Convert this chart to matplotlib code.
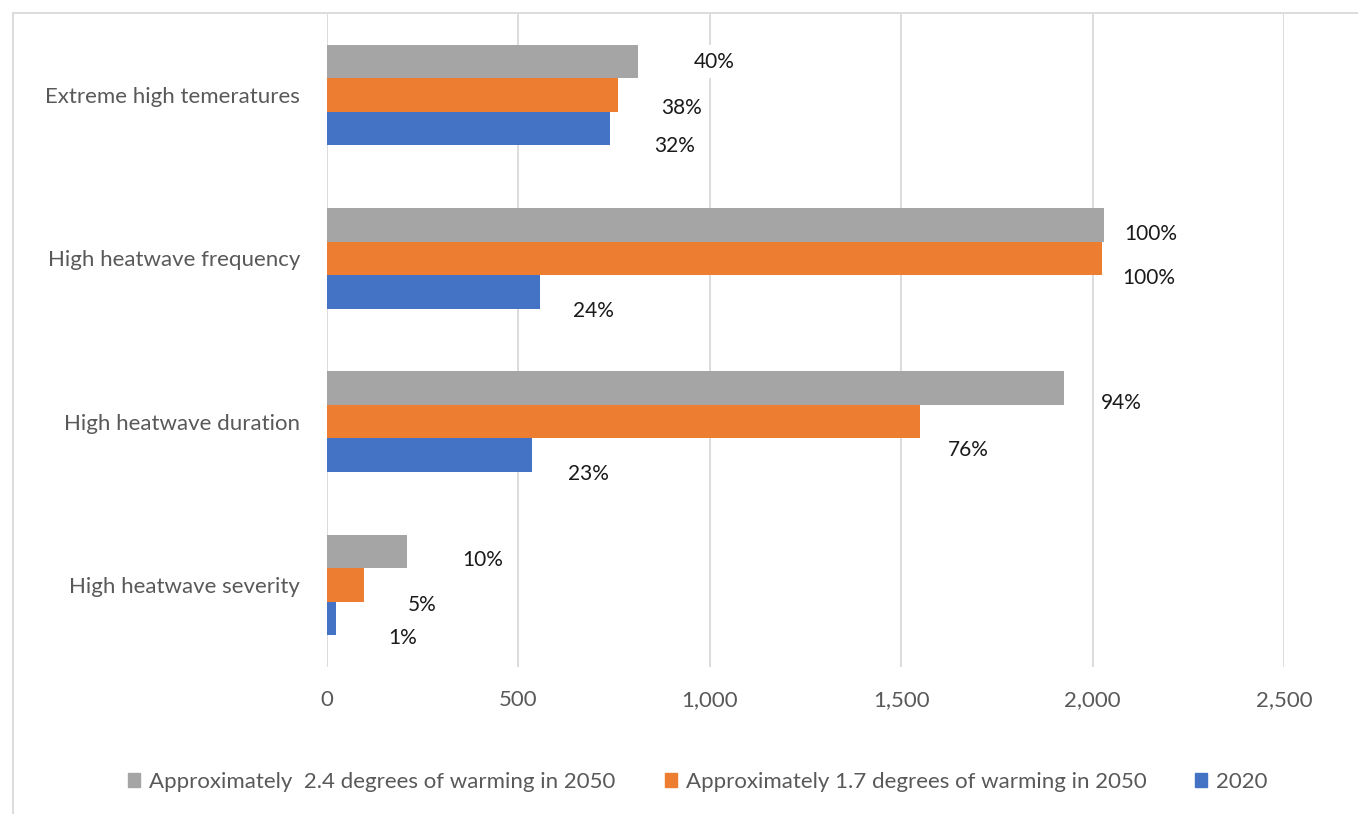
import matplotlib.pyplot as plt
from matplotlib.patches import Patch
from matplotlib.lines import Line2D
from matplotlib.ticker import FuncFormatter

plt.rcParams['font.family'] = ['Lato', 'DejaVu Sans']

# data
categories = ['Extreme high temeratures', 'High heatwave frequency',
              'High heatwave duration', 'High heatwave severity']
series_names = ['Approximately  2.4 degrees of warming in 2050',
                'Approximately 1.7 degrees of warming in 2050',
                '2020']
warm_24 = [813, 2031, 1924, 209]
warm_17 = [761, 2024, 1550, 97]
y2020 = [740, 557, 536, 24]
pct_24 = ['40%', '100%', '94%', '10%']
pct_17 = ['38%', '100%', '76%', '5%']
pct_2020 = ['32%', '24%', '23%', '1%']

colors = ['#A5A5A5', '#ED7D31', '#4472C4']
# hand-placed label offsets (pixels from bar end / bar centre)
label_dx = [[76, 46, 58, 76], [63, 47, 48, 58], [64, 53, 56, 66]]
label_dy = [[0, 9, 15, 9], [13, 20, 28, 20], [17, 19, 19, 20]]

W, H = 1358, 814
fig = plt.figure(figsize=(W / 100, H / 100), dpi=100)
ax = fig.add_axes([327 / W, 1 - 666.5 / H, (1284 - 327) / W, (666.5 - 13.5) / H])

h = 0.2055
offsets = [-h, 0, h]
all_vals = [warm_24, warm_17, y2020]
all_pct = [pct_24, pct_17, pct_2020]
ypos = list(range(len(categories)))

for s in range(3):
    ys = [y + offsets[s] for y in ypos]
    ax.barh(ys, all_vals[s], height=h, color=colors[s], zorder=2)
    for i, y in enumerate(ys):
        ax.annotate(all_pct[s][i], xy=(all_vals[s][i], y),
                    xytext=(label_dx[s][i], -label_dy[s][i]),
                    textcoords='offset pixels', ha='center', va='center',
                    fontsize=15, color='#1a1a1a', zorder=4,
                    bbox=dict(boxstyle='square,pad=0.3', fc='white', ec='none'))

ax.set_xlim(0, 2500)
ax.set_ylim(3.5, -0.5)
ax.set_xticks([0, 500, 1000, 1500, 2000, 2500])
ax.xaxis.set_major_formatter(FuncFormatter(lambda v, p: f'{int(v):,}'))
ax.set_yticks(ypos)
ax.set_yticklabels(categories)
ax.grid(axis='x', color='#D9D9D9', linewidth=1.3, zorder=0)
ax.set_axisbelow(True)
for sp in ax.spines.values():
    sp.set_visible(False)
ax.tick_params(axis='both', length=0, labelsize=16, colors='#595959')
ax.tick_params(axis='y', pad=19.5)
ax.tick_params(axis='x', pad=17)

# outer chart border (partly cropped in the original)
fig.add_artist(Line2D([12.5 / W, 12.5 / W], [0, 1 - 13 / H], color='#D9D9D9', lw=1.3))
fig.add_artist(Line2D([12.5 / W, 1], [1 - 13 / H, 1 - 13 / H], color='#D9D9D9', lw=1.3))

handles = [Patch(color=c) for c in colors]
fig.legend(handles, series_names, loc='center', bbox_to_anchor=(698 / W, 1 - 782 / H),
           ncol=3, frameon=False, fontsize=16, labelcolor='#595959',
           handlelength=0.55, handleheight=0.55, handletextpad=0.4, columnspacing=2.2)

fig.savefig('out.png', dpi=100)
